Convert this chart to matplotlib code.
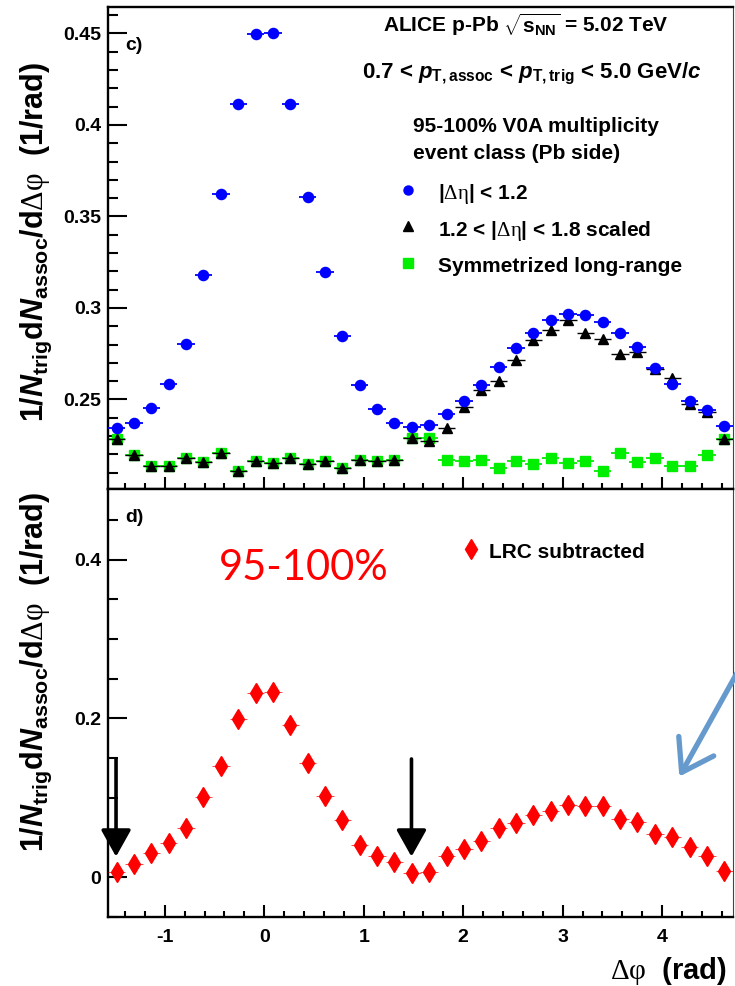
import matplotlib

matplotlib.use("Agg")
import matplotlib.pyplot as plt
from matplotlib.lines import Line2D
from matplotlib.patches import FancyArrowPatch
from matplotlib.ticker import FuncFormatter, MultipleLocator

# ---------------------------------------------------------------------------
# Data: per-trigger yields vs delta-phi (36 bins over [-pi/2, 3pi/2])
# ---------------------------------------------------------------------------
dphi = [-1.484, -1.309, -1.134, -0.960, -0.785, -0.611, -0.436, -0.262, -0.087,
        0.087, 0.262, 0.436, 0.611, 0.785, 0.960, 1.134, 1.309, 1.484,
        1.658, 1.833, 2.007, 2.182, 2.356, 2.531, 2.705, 2.880, 3.054,
        3.229, 3.403, 3.578, 3.752, 3.927, 4.102, 4.276, 4.451, 4.625]
bin_half_width = 0.0873

short_range = [0.2345, 0.2372, 0.2454, 0.2584, 0.2802, 0.3178, 0.3622, 0.4112, 0.4496,
               0.4502, 0.4112, 0.3607, 0.3197, 0.2846, 0.2578, 0.2447, 0.2374, 0.2350,
               0.2360, 0.2420, 0.2491, 0.2578, 0.2675, 0.2779, 0.2861, 0.2933, 0.2966,
               0.2961, 0.2921, 0.2864, 0.2788, 0.2671, 0.2587, 0.2492, 0.2442, 0.2356]

long_range_scaled = [0.2283, 0.2197, 0.2136, 0.2137, 0.2179, 0.2156, 0.2208, 0.2110, 0.2165,
                     0.2154, 0.2181, 0.2150, 0.2165, 0.2123, 0.2167, 0.2165, 0.2168, 0.2290,
                     0.2274, 0.2345, 0.2460, 0.2551, 0.2602, 0.2715, 0.2824, 0.2879, 0.2933,
                     0.2864, 0.2833, 0.2751, 0.2757, 0.2666, 0.2618, 0.2474, 0.2429, 0.2283]

long_range_sym = [0.2283, 0.2197, 0.2136, 0.2137, 0.2179, 0.2156, 0.2208, 0.2110, 0.2165,
                  0.2154, 0.2181, 0.2150, 0.2165, 0.2123, 0.2167, 0.2165, 0.2168, 0.2290,
                  0.2290, 0.2168, 0.2165, 0.2167, 0.2123, 0.2165, 0.2150, 0.2181, 0.2154,
                  0.2165, 0.2110, 0.2208, 0.2156, 0.2179, 0.2137, 0.2136, 0.2197, 0.2283]

lrc_subtracted = [0.0063, 0.0168, 0.0302, 0.0436, 0.0617, 0.1008, 0.1403, 0.1995, 0.2327,
                  0.2339, 0.1919, 0.1444, 0.1028, 0.0722, 0.0407, 0.0272, 0.0197, 0.0050,
                  0.0067, 0.0272, 0.0353, 0.0457, 0.0617, 0.0680, 0.0785, 0.0839, 0.0911,
                  0.0903, 0.0903, 0.0735, 0.0693, 0.0546, 0.0504, 0.0386, 0.0268, 0.0084]

zyam_positions = [-1.49, 1.48]

# ---------------------------------------------------------------------------
# Style
# ---------------------------------------------------------------------------
plt.rcParams["font.family"] = ["Liberation Sans", "DejaVu Sans"]
plt.rcParams["font.weight"] = "bold"
plt.rcParams["mathtext.fontset"] = "custom"
plt.rcParams["mathtext.rm"] = "Liberation Sans:weight=bold"
plt.rcParams["mathtext.bf"] = "Liberation Sans:weight=bold"
plt.rcParams["mathtext.it"] = "Liberation Sans:weight=bold:style=italic"
# greek symbols are set upright in a thin serif face
plt.rcParams["mathtext.sf"] = "Liberation Serif:weight=normal:style=normal"
plt.rcParams["axes.unicode_minus"] = False

W, H = 735, 986


def fx(px):
    return px / W


def fy(py):
    return 1 - py / H


fig = plt.figure(figsize=(W / 100, H / 100), dpi=100)
ax1 = fig.add_axes([fx(108), fy(489), (733 - 108) / W, (489 - 7) / H])
ax2 = fig.add_axes([fx(108), fy(917), (733 - 108) / W, (917 - 489) / H])

XMIN, XMAX = -1.5708, 4.7124
fmt = FuncFormatter(lambda v, _: f"{v:g}")

for ax in (ax1, ax2):
    ax.set_xlim(XMIN, XMAX)
    for side in ("left", "bottom", "top"):
        ax.spines[side].set_linewidth(1.7)
    ax.spines["right"].set_linewidth(0.8)
    ax.spines["right"].set_color("#444444")
    ax.xaxis.set_major_locator(MultipleLocator(1))
    ax.xaxis.set_minor_locator(MultipleLocator(0.2))
    ax.tick_params(which="both", direction="in", top=False, right=False, width=1.5)
    ax.tick_params(axis="x", which="major", length=8.5, pad=9, labelsize=14)
    ax.tick_params(axis="x", which="minor", length=4.5)
    ax.tick_params(axis="y", which="major", length=14, pad=5, labelsize=14)
    ax.tick_params(axis="y", which="minor", length=7.5)
    ax.yaxis.set_major_formatter(fmt)
    ax.xaxis.set_major_formatter(fmt)

ax1.tick_params(axis="x", labelbottom=False)

# ── Top panel: correlations ───────────────────────────────────────────────
ax1.set_ylim(0.2011, 0.4644)
ax1.yaxis.set_major_locator(MultipleLocator(0.05))
ax1.yaxis.set_minor_locator(MultipleLocator(0.01))

ax1.errorbar(dphi, long_range_sym, xerr=bin_half_width, fmt="s", color="#00ee00",
             ms=7.0, elinewidth=1.3, capsize=0, zorder=2)
ax1.errorbar(dphi, long_range_scaled, xerr=bin_half_width, fmt="^", color="black",
             ms=7.0, elinewidth=1.0, capsize=0, linestyle="none", zorder=3)
ax1.errorbar(dphi, short_range, xerr=bin_half_width, fmt="o", color="#0000ff",
             ms=7.3, elinewidth=1.3, capsize=0, zorder=4)

handles = [
    Line2D([], [], marker="o", color="#0000ff", ls="none", ms=6.5),
    Line2D([], [], marker="^", color="black", ls="none", ms=6.5),
    Line2D([], [], marker="s", color="#00ee00", ls="none", ms=6.5),
]
labels = [
    r"|$\mathsf{\Delta\eta}$| < 1.2",
    r"1.2 < |$\mathsf{\Delta\eta}$| < 1.8 scaled",
    "Symmetrized long-range",
]
ax1.legend(handles, labels, loc="upper left", bbox_to_anchor=(fx(398), fy(181)),
           bbox_transform=fig.transFigure, frameon=False, fontsize=15,
           handlelength=1.0, handleheight=1.25, handletextpad=0.9,
           labelspacing=0.55, borderpad=0, borderaxespad=0)

fig.text(fx(383), fy(32), r"ALICE p-Pb $\sqrt{\mathrm{s}_{\mathrm{NN}}}$ = 5.02 TeV",
         fontsize=15, ha="left", va="baseline")
fig.text(fx(362), fy(78),
         r"0.7 < $p_{\mathrm{T,assoc}}$ < $p_{\mathrm{T,trig}}$ < 5.0 GeV/$c$",
         fontsize=16, ha="left", va="baseline")
fig.text(fx(413), fy(132), "95-100% V0A multiplicity", fontsize=15,
         ha="left", va="baseline")
fig.text(fx(413), fy(159), "event class (Pb side)", fontsize=15,
         ha="left", va="baseline")
fig.text(fx(125), fy(50), "c)", fontsize=14, ha="left", va="baseline")

# ── Bottom panel: long-range subtracted ───────────────────────────────────
ax2.set_ylim(-0.05, 0.489)
ax2.yaxis.set_major_locator(MultipleLocator(0.2))
ax2.yaxis.set_minor_locator(MultipleLocator(0.05))

ax2.errorbar(dphi, lrc_subtracted, xerr=bin_half_width, fmt="d", color="#ff0000",
             ms=10.5, elinewidth=0.5, capsize=0, zorder=3)

for x0 in zyam_positions:
    ax2.annotate("", xy=(x0, 0.026), xytext=(x0, 0.149),
                 arrowprops=dict(arrowstyle="-|>,head_length=0.75,head_width=0.42",
                                 color="black", lw=2.6, mutation_scale=22,
                                 shrinkA=0, shrinkB=0))

ax2.legend([Line2D([], [], marker="d", color="#ff0000", ls="none", ms=10)],
           ["LRC subtracted"], loc="upper left", bbox_to_anchor=(fx(465), fy(540)),
           bbox_transform=fig.transFigure, frameon=False, fontsize=15,
           handlelength=0.6, handleheight=1.25, handletextpad=0.55,
           borderpad=0, borderaxespad=0)

fig.text(fx(219), fy(580), "95-100%", fontsize=30, color="#ff0000",
         family=["Lato", "DejaVu Sans"], fontweight="normal", ha="left", va="baseline")
fig.text(fx(125), fy(522), "d)", fontsize=14, ha="left", va="baseline")

# ── Axis titles ───────────────────────────────────────────────────────────
ylab = (r"1/$\mathit{N}_{\mathrm{trig}}\mathrm{d}\mathit{N}_{\mathrm{assoc}}"
        r"/\mathrm{d}\mathsf{\Delta\varphi}$  (1/rad)")
fig.text(fx(36), fy(422), ylab, rotation=90, fontsize=22, ha="center", va="bottom")
fig.text(fx(36), fy(852), ylab, rotation=90, fontsize=22, ha="center", va="bottom")
fig.text(fx(727), fy(979), r"$\mathsf{\Delta\varphi}$  (rad)", fontsize=21,
         ha="right", va="baseline")

# pointer arrow
fig.add_artist(FancyArrowPatch((fx(742), fy(664)), (fx(678), fy(779)),
                               transform=fig.transFigure,
                               arrowstyle="->,head_length=0.9,head_width=0.6",
                               mutation_scale=24, color="#6699cc", lw=3.8))

fig.savefig("out.png", dpi=100)
